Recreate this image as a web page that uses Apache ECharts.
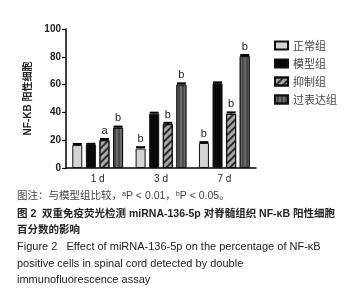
<!DOCTYPE html>
<html>
<head>
<meta charset="utf-8">
<script src="https://cdn.jsdelivr.net/npm/echarts@6/dist/echarts.min.js"></script>
<style>
  html, body { margin: 0; padding: 0; background: #fff; }
  #chart { width: 351px; height: 300px; }
</style>
</head>
<body>
<div id="chart"></div>
<script>
var categories = ['1 d', '3 d', '7 d'];
var groupNames = ['正常组', '模型组', '抑制组', '过表达组'];
var normalVals = [16.5, 14, 18];
var modelVals = [17, 39, 61];
var inhibitVals = [20, 31.5, 39];
var overVals = [29, 60, 80.5];
var errVals = [
  [0.8, 1, 0.6],
  [0.4, 0.8, 0.6],
  [0.9, 1, 1],
  [0.8, 0.9, 0.8]
];
var sigMarks = [
  ['', 'b', 'b'],
  ['', '', ''],
  ['a', 'b', 'b'],
  ['b', 'b', 'b']
];
var yTicks = [0, 20, 40, 60, 80, 100];
var captionLines = [
  '图注：与模型组比较，ᵃP < 0.01，ᵇP < 0.05。',
  '图 2  双重免疫荧光检测 miRNA-136-5p 对脊髓组织 NF-κB 阳性细胞',
  '百分数的影响',
  'Figure 2   Effect of miRNA-136-5p on the percentage of NF-κB',
  'positive cells in spinal cord detected by double',
  'immunofluorescence assay'
];

var allVals = [normalVals, modelVals, inhibitVals, overVals];
var fills = ['#d4d4d4', '#0a0a0a', '#a8a8a8', '#4a4a4a'];
var decals = [
  null,
  null,
  { symbol: 'rect', symbolSize: 1, dashArrayX: [1, 0], dashArrayY: [2, 3], rotation: -Math.PI / 4, color: '#2a2a2a' },
  { symbol: 'rect', symbolSize: 1, dashArrayX: [2, 2], dashArrayY: [1, 0], rotation: 0, color: '#6a6a6a' }
];

var chart = echarts.init(document.getElementById('chart'));
var series = [];
var barW = 10, gapPx = 3.6;

allVals.forEach(function (vals, i) {
  var style = { color: fills[i], borderColor: '#111', borderWidth: 1 };
  if (decals[i]) style.decal = decals[i];
  series.push({
    name: groupNames[i],
    type: 'bar',
    data: vals,
    barWidth: barW,
    barGap: '36%',
    itemStyle: style,
    label: {
      show: true,
      position: 'top',
      distance: 4,
      fontSize: 11,
      color: '#222',
      fontFamily: 'Liberation Sans',
      formatter: function (p) { return sigMarks[i][p.dataIndex]; }
    }
  });
});

// error bars, one custom series per group, offset to its bar
allVals.forEach(function (vals, i) {
  var offset = (i - 1.5) * (barW + gapPx);
  series.push({
    type: 'custom',
    name: 'err' + i,
    silent: true,
    z: 5,
    data: vals.map(function (v, k) { return [k, v, v + errVals[i][k]]; }),
    renderItem: function (params, api) {
      var top = api.coord([api.value(0), api.value(2)]);
      var base = api.coord([api.value(0), api.value(1)]);
      var x = top[0] + offset;
      return {
        type: 'group',
        children: [
          { type: 'line', shape: { x1: x, y1: base[1], x2: x, y2: top[1] }, style: { stroke: '#000', lineWidth: 1.2 } },
          { type: 'line', shape: { x1: x - 4.5, y1: top[1], x2: x + 4.5, y2: top[1] }, style: { stroke: '#000', lineWidth: 2 } }
        ]
      };
    }
  });
});

var graphics = captionLines.map(function (t, i) {
  var ys = [191, 209, 225, 241, 258, 274];
  return {
    type: 'text',
    left: 17,
    top: ys[i],
    style: {
      text: t,
      fontSize: i >= 3 ? 11 : 10.5,
      fontWeight: (i === 1 || i === 2) ? 'bold' : 'normal',
      fontFamily: 'Liberation Sans, Noto Sans CJK SC',
      fill: i === 0 ? '#444' : '#222'
    }
  };
});

var option = {
  animation: false,
  grid: { left: 66, top: 29, width: 190, height: 139 },
  legend: {
    orient: 'vertical',
    left: 269,
    top: 35,
    icon: 'rect',
    itemWidth: 13,
    itemHeight: 8,
    itemGap: 7,
    data: groupNames,
    textStyle: { fontSize: 11, color: '#444', fontFamily: 'Noto Sans CJK SC' }
  },
  xAxis: {
    type: 'category',
    data: categories,
    axisLine: { lineStyle: { color: '#000', width: 1.5 } },
    axisTick: { alignWithLabel: true, length: 4, lineStyle: { color: '#000', width: 1.2 } },
    axisLabel: { fontSize: 10, color: '#222', margin: 6, fontFamily: 'Liberation Sans' }
  },
  yAxis: {
    type: 'value',
    min: 0,
    max: 100,
    interval: 20,
    name: 'NF-KB 阳性细胞',
    nameLocation: 'middle',
    nameGap: 29,
    nameTextStyle: { fontSize: 10, fontWeight: 'bold', color: '#222', fontFamily: 'Liberation Sans, Noto Sans CJK SC' },
    splitLine: { show: false },
    axisLine: { show: true, lineStyle: { color: '#000', width: 1.5 } },
    axisTick: { show: true, length: 4, lineStyle: { color: '#000', width: 1.2 } },
    axisLabel: {
      fontSize: 10, fontWeight: 'bold', color: '#222', margin: 5, fontFamily: 'Liberation Sans',
      formatter: function (v) { return yTicks.indexOf(v) >= 0 ? String(v) : ''; }
    }
  },
  graphic: graphics,
  series: series
};
chart.setOption(option);
</script>
</body>
</html>
